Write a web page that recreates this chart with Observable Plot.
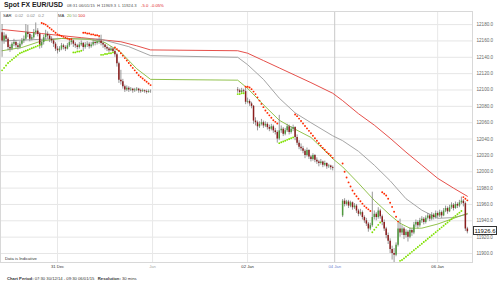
<!DOCTYPE html>
<html><head><meta charset="utf-8">
<script src="https://cdn.jsdelivr.net/npm/d3@7"></script>
<script src="https://cdn.jsdelivr.net/npm/@observablehq/plot@0.6"></script>
<style>
body{margin:0;background:#fff;font-family:"Liberation Sans",Arial,sans-serif;}
#wrap{position:relative;width:500px;height:284px;overflow:hidden;}
.t{position:absolute;white-space:nowrap;line-height:1;}
</style></head><body><div id="wrap"></div>
<script>
// ---- DATA (prices x10000, hours counted from 30 Dec 00:00 with the weekend removed) ----
const sessionStart = [10, 69.5, 96];   // first 30-min bar of each trading session
// [open, high, low, close]
const barsA = [
[12170,12180,12140,12160],[12160,12170,12156,12166],[12166,12168,12158,12162],[12162,12164,12148,12152],
[12152,12155,12146,12150],[12150,12158,12148,12156],[12156,12162,12153,12158],[12158,12160,12151,12154],
[12154,12157,12149,12152],[12152,12159,12150,12156],[12156,12163,12154,12160],[12160,12166,12157,12162],
[12162,12180,12160,12170],[12170,12179,12164,12168],[12168,12170,12159,12162],[12162,12167,12160,12164],
[12164,12174,12162,12170],[12170,12182,12167,12172],[12172,12175,12165,12168],[12168,12170,12150,12154],
[12154,12161,12151,12158],[12158,12167,12155,12164],[12164,12173,12161,12168],[12168,12171,12162,12166],
[12166,12168,12158,12162],[12162,12165,12157,12160],[12160,12162,12152,12156],[12156,12158,12147,12150],
[12150,12153,12144,12148],[12148,12153,12146,12150],[12150,12157,12148,12154],[12154,12156,12149,12152],
[12152,12154,12147,12150],[12150,12157,12149,12154],[12154,12161,12152,12158],[12158,12163,12155,12160],
[12160,12161,12152,12156],[12156,12158,12151,12154],[12154,12156,12149,12152],[12152,12158,12150,12155],
[12155,12160,12153,12157],[12157,12158,12147,12152],[12152,12158,12150,12155],[12155,12159,12152,12156],
[12156,12158,12150,12153],[12153,12158,12151,12155],[12155,12161,12153,12158],[12158,12160,12154,12157],
[12157,12162,12155,12159],[12159,12164,12156,12160],[12160,12167,12154,12157],[12157,12159,12151,12155],
[12155,12156,12149,12152],[12152,12154,12147,12150],[12150,12152,12146,12148],[12148,12153,12147,12150],
[12150,12151,12146,12147],[12147,12149,12140,12143],[12143,12145,12128,12132],[12132,12134,12108,12112],
[12112,12124,12106,12110],[12110,12113,12101,12104],[12104,12106,12097,12100],[12100,12105,12098,12102],
[12102,12104,12097,12100],[12100,12103,12098,12101],[12101,12102,12096,12099],[12099,12102,12097,12100],
[12100,12103,12098,12101],[12101,12102,12096,12099],[12099,12101,12096,12098],[12098,12101,12097,12099],
[12099,12100,12096,12098],[12098,12100,12095,12097],[12097,12100,12096,12098],[12098,12100,12096,12098]
];
const barsB = [
[12100,12103,12096,12099],[12099,12101,12095,12097],[12097,12102,12096,12099],[12099,12101,12096,12098],
[12098,12102,12082,12085],[12085,12090,12083,12086],[12086,12088,12080,12083],[12083,12085,12077,12080],
[12080,12081,12058,12062],[12062,12066,12056,12060],[12060,12062,12050,12055],[12055,12061,12053,12058],
[12058,12064,12056,12060],[12060,12062,12053,12056],[12056,12061,12054,12058],[12058,12060,12051,12054],
[12054,12057,12049,12052],[12052,12058,12050,12055],[12055,12057,12047,12050],[12050,12053,12045,12048],
[12048,12050,12035,12040],[12040,12069,12038,12050],[12050,12056,12047,12052],[12052,12054,12043,12046],
[12046,12053,12044,12050],[12050,12058,12048,12055],[12055,12057,12045,12048],[12048,12055,12046,12052],
[12052,12057,12049,12054],[12054,12055,12038,12042],[12042,12045,12032,12035],[12035,12038,12027,12030],
[12030,12034,12025,12028],[12028,12031,12022,12025],[12025,12027,12016,12020],[12020,12029,12018,12026],
[12026,12027,12015,12018],[12018,12020,12012,12015],[12015,12022,12013,12020],[12020,12021,12011,12014],
[12014,12017,12009,12012],[12012,12014,12006,12010],[12010,12015,12008,12012],[12012,12013,12005,12008],
[12008,12013,12006,12010],[12010,12011,12003,12006],[12006,12009,12004,12007],[12007,12008,12002,12005],
[12005,12007,12001,12004]
];
const barsC = [
[11946,11966,11944,11964],[11964,11967,11957,11960],[11960,11965,11958,11963],[11963,11965,11955,11958],
[11958,11964,11956,11962],[11962,11963,11953,11956],[11956,11961,11954,11958],[11958,11960,11949,11952],
[11952,11954,11945,11948],[11948,11954,11946,11950],[11950,11952,11941,11944],[11944,11946,11937,11940],
[11940,11943,11933,11936],[11936,11938,11926,11930],[11930,11937,11928,11934],[11934,11975,11932,11944],
[11944,11952,11941,11948],[11948,11950,11940,11944],[11944,11956,11942,11952],[11952,11954,11942,11945],
[11945,11947,11934,11938],[11938,11941,11927,11930],[11930,11932,11918,11922],[11922,11925,11911,11915],
[11915,11918,11900,11905],[11905,11909,11892,11900],[11900,11906,11889,11898],[11898,11913,11896,11910],
[11910,11937,11908,11930],[11930,11942,11920,11925],[11925,11934,11922,11930],[11930,11932,11917,11922],
[11922,11929,11919,11926],[11926,11928,11914,11920],[11920,11931,11918,11928],[11928,11930,11921,11925],
[11925,11938,11923,11935],[11935,11941,11932,11938],[11938,11940,11930,11934],[11934,11943,11932,11940],
[11940,11945,11937,11942],[11942,11944,11935,11938],[11938,11946,11936,11943],[11943,11949,11941,11946],
[11946,11948,11939,11942],[11942,11950,11940,11947],[11947,11949,11941,11944],[11944,11952,11942,11949],
[11949,11951,11943,11946],[11946,11953,11944,11950],[11950,11952,11943,11946],[11946,11955,11945,11952],
[11952,11958,11950,11955],[11955,11957,11948,11951],[11951,11959,11950,11956],[11956,11962,11954,11959],
[11959,11961,11952,11955],[11955,11963,11954,11960],[11960,11962,11955,11958],[11958,11965,11956,11962],
[11962,11969,11960,11964],[11964,11966,11957,11961],[11961,11963,11927,11930],[11930,11932,11924,11926.6]
];
// Parabolic SAR runs: session, first bar index, side, one value per bar
const sarRuns = [
 {session:0, from:0,  side:"long",  values:[12124,12127,12130,12133,12135,12137,12139,12141,12143,12145,12146,12147,12148,12149,12150,12151,12152,12153,12154,12155]},
 {session:0, from:20, side:"short", values:[12182,12181,12180,12178,12176,12174,12172,12170,12168,12167,12166,12165,12164,12163,12162,12162]},
 {session:0, from:36, side:"long",  values:[12146,12146,12147,12147,12148]},
 {session:0, from:41, side:"short", values:[12170,12170,12169,12169,12168,12168,12167,12167,12166]},
 {session:0, from:50, side:"long",  values:[12143,12143,12144,12144,12145,12145,12146]},
 {session:0, from:57, side:"short", values:[12152,12150,12148,12145,12142,12139,12136,12133,12130,12127,12124,12121,12118,12116,12114,12112,12110,12108,12106]},
 {session:1, from:0,  side:"long",  values:[12095,12095,12096,12096]},
 {session:1, from:4,  side:"short", values:[12104,12104,12103,12101,12098,12095,12091,12087,12083,12079,12075,12072,12069,12066,12063,12061,12059]},
 {session:1, from:21, side:"long",  values:[12035,12036,12037,12038,12039,12040,12041,12042]},
 {session:1, from:29, side:"short", values:[12070,12068,12065,12062,12059,12056,12053,12050,12047,12044,12041,12038,12035,12032,12029,12027,12024,12022,12020,12017]},
 {session:2, from:0,  side:"short", values:[12010,12000,11993,11987,11982,11977,11973,11970,11967,11964,11961,11958,11956,11954,11952]},
 {session:2, from:15, side:"long",  values:[11926,11929,11932,11935,11938]},
 {session:2, from:20, side:"short", values:[11975,11973,11971,11967,11962,11957,11951,11945,11939]},
 {session:2, from:29, side:"long",  values:[11891,11892,11894,11896,11898,11900,11902,11904,11906,11908,11910,11912,11914,11916,11918,11920,11922,11924,11926,11928,11930,11932,11934,11936,11938,11940,11942,11944,11946,11948,11950,11952]},
 {session:2, from:61, side:"short", values:[11969,11967,11965]}
];
// Moving averages
const ma20Hours  = [10,15,20,25,32,36,40,44,47.5,69.5,72,76,80,84,88,91,93.5,96,100,104,108,110.5,113,116,120,124,127.5];
const ma20Values = [12148,12152,12160,12163,12162,12158,12146,12126,12113,12112,12102,12082,12063,12052,12042,12028,12016,12006,11986,11965,11947,11937,11931,11931,11936,11943,11949];
const ma50Hours  = [10,25,35,42,47.5,69.5,72,76,80,84,88,93.5,96,100,104,108,112,116,120,124,127.5];
const ma50Values = [12160,12163,12162,12153,12142,12140,12131,12113,12090,12072,12060,12044,12038,12025,12008,11989,11967,11953,11943,11944,11948];
const ma100Hours  = [10,20,30,40,44,47.5,69.5,72,76,80,84,88,93.5,96,100,104,108,112,116,120,124,127.5];
const ma100Values = [12174,12169,12164,12159,12154,12149,12148,12145,12136,12127,12118,12109,12096,12087,12071,12057,12041,12024,12008,11992,11980,11970];
const tickHours  = [24,48,72,94,120];
const tickLabels = ["31 Dec","Jan","02 Jan","04 Jan","06 Jan"];
const yTicks = [11900,11920,11940,11960,11980,12000,12020,12040,12060,12080,12100,12120,12140,12160,12180];
const lastClose = 11926.6;

// ---- build ----
const sessions = [barsA, barsB, barsC];
const bars = sessions.flatMap((s, k) => s.map(([o,h,l,c], i) => ({t: sessionStart[k] + i*0.5, o, h, l, c})));
const sar = sarRuns.flatMap(r => r.values.map((v, i) => ({t: sessionStart[r.session] + (r.from + i)*0.5, v, side: r.side})));
const toPts = (hs, vs) => hs.map((t, i) => ({t, v: vs[i]}));
const ticks = tickHours.map((t, i) => ({t, label: tickLabels[i]}));

const chart = Plot.plot({
  width: 500, height: 284,
  marginTop: 11, marginBottom: 22, marginLeft: 0, marginRight: 28,
  x: {domain: [9.6, 128.8], axis: null},
  y: {domain: [11889, 12196], axis: null},
  style: {background: "transparent", fontFamily: "Liberation Sans, Arial, sans-serif"},
  marks: [
    Plot.ruleY(yTicks, {stroke: "#e6e6e6"}),
    Plot.ruleX(ticks, {x: "t", stroke: d => d.label === "04 Jan" ? "#c8c8c8" : "#e8e8e8"}),
    Plot.frame({stroke: "#d8d8d8"}),
    Plot.line(toPts(ma100Hours, ma100Values), {x: "t", y: "v", stroke: "#e23b35", strokeWidth: 0.9}),
    Plot.line(toPts(ma50Hours, ma50Values), {x: "t", y: "v", stroke: "#9b9b9b", strokeWidth: 0.9}),
    Plot.line(toPts(ma20Hours, ma20Values), {x: "t", y: "v", stroke: "#86bb3a", strokeWidth: 0.9}),
    Plot.ruleX(bars, {x: "t", y1: "l", y2: "h", stroke: "#7d7d7d", strokeWidth: 0.8}),
    Plot.ruleX(bars, {x: "t", y1: "o", y2: "c", stroke: d => d.c >= d.o ? "#4f9a3e" : "#8a1c1c", strokeWidth: 1.5}),
    Plot.dot(sar, {x: "t", y: "v", r: 0.95, fill: d => d.side === "long" ? "#7fe000" : "#ff2a00", stroke: "none"}),
    Plot.text(yTicks, {y: d => d, frameAnchor: "right", dx: 4, textAnchor: "start", text: d => d.toFixed(1), fontSize: 4.6, fill: "#666"}),
    Plot.text(ticks, {x: "t", frameAnchor: "bottom", dy: 5, text: "label", fontSize: 4.2,
      fill: d => d.label === "04 Jan" ? "#6f7fcf" : d.label === "Jan" ? "#aaa" : "#333",
      fontWeight: d => (d.label === "Jan" || d.label === "04 Jan") ? "normal" : "bold"})
  ]
});

const wrap = document.getElementById("wrap");
chart.style.position = "absolute"; chart.style.left = "0"; chart.style.top = "0";
wrap.appendChild(chart);

function addText(html, left, top, css) {
  const d = document.createElement("div");
  d.className = "t"; d.innerHTML = html;
  d.style.left = left + "px"; d.style.top = top + "px";
  d.style.cssText += css;
  wrap.appendChild(d);
  return d;
}
addText("Spot FX EUR/USD", 4, 2, "font-size:6.9px;font-weight:bold;color:#222;");
addText("08:31 06/01/15", 67, 4, "font-size:4.2px;color:#555;");
addText("H 11969.3&nbsp; L 11924.3", 97, 4, "font-size:4.2px;color:#555;");
addText("-5.0&nbsp; -0.05%", 141, 4, "font-size:4.2px;color:#e02020;");
addText("SAR", 3, 14, "font-size:4.2px;color:#333;");
addText("0.02&nbsp;&nbsp; 0.02&nbsp;&nbsp; 0.2", 15, 14, "font-size:4.2px;color:#888;");
addText("MA", 58, 14, "font-size:4.2px;color:#333;");
addText("20", 67, 14, "font-size:4.2px;color:#7ab030;");
addText("50", 72.5, 14, "font-size:4.2px;color:#999;");
addText("100", 78, 14, "font-size:4.2px;color:#e02020;");
addText("Data is Indicative", 5, 257, "font-size:4.2px;color:#333;");
addText("<b>Chart Period:</b> 07:30 30/12/14 - 09:30 06/01/15&nbsp;&nbsp; <b>Resolution:</b> 30 mins", 7, 277, "font-size:4.2px;color:#333;");

// current price tag
const yLast = chart.scale("y").apply(lastClose);
addText(lastClose.toFixed(1), 473, yLast - 5,
  "font-size:6px;color:#111;background:#fff;border:0.8px solid #333;width:24px;height:9px;line-height:9px;text-align:center;box-sizing:border-box;");
</script>
</body></html>
